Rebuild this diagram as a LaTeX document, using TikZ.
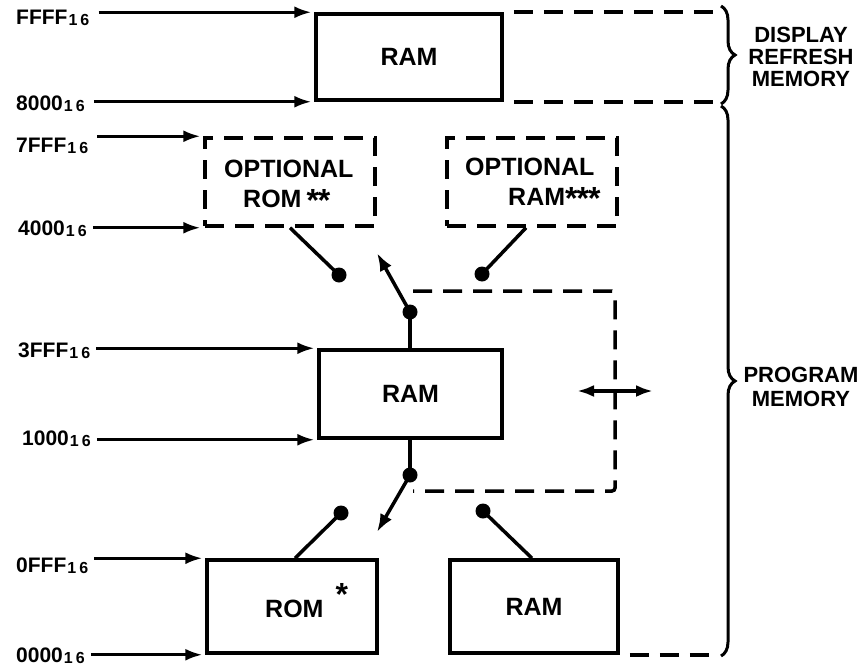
\documentclass[tikz,border=0pt]{standalone}
\usepackage{fontspec}
\setmainfont{Liberation Sans}
\usetikzlibrary{arrows.meta,decorations.pathreplacing}
\newcommand{\hexlab}[1]{#1\kern1pt\raisebox{-1pt}{\fontsize{16}{16}\selectfont 1\kern3pt 6}}
\newcommand{\bigstar}{\raisebox{-4pt}{\fontsize{32}{32}\selectfont *}}
\begin{document}
\begin{tikzpicture}[x=1pt,y=-1pt,
  every node/.style={font=\fontsize{25}{28}\selectfont\bfseries},
  membox/.style={draw, line width=3.5pt, inner sep=0pt},
  optbox/.style={draw, line width=3.5pt, dash pattern=on 19pt off 11pt, inner sep=0pt},
  addr/.style={anchor=base west, inner sep=0pt, font=\fontsize{21}{21}\selectfont\bfseries},
  btxt/.style={anchor=base west, inner sep=0pt},
  feed/.style={-{Latex[length=17pt,width=12pt]}, line width=2.8pt},
  wire/.style={line width=3.5pt},
  swarrow/.style={line width=3.5pt, -{Latex[length=18pt,width=13pt]}},
  dashline/.style={line width=3.5pt, dash pattern=on 19pt off 11pt},
  contact/.style={circle, fill, inner sep=0pt, minimum size=15pt},
  bracetext/.style={align=center, inner sep=0pt},
  brc/.style={decorate, decoration={brace, amplitude=14pt}, line width=3pt}
]
\useasboundingbox (0,0) rectangle (861,669);

% boxes
\node[membox, minimum width=186pt, minimum height=86pt] (ramA) at (409,57) {RAM};
\node[optbox, minimum width=170pt, minimum height=88pt] (orom) at (290,182) {};
\node[optbox, minimum width=170pt, minimum height=88pt] (oram) at (532,182) {};
\node[membox, minimum width=183pt, minimum height=88pt] (ramB) at (410.5,394) {RAM};
\node[membox, minimum width=170pt, minimum height=93pt] (rom) at (292,606.5) {};
\node[membox, minimum width=168pt, minimum height=93pt] (ramC) at (534,606.5) {RAM};

% box texts
\node[btxt] (t1) at (224,177) {OPTIONAL};
\node[btxt] (t2) at (243,207) {ROM\kern5pt\bigstar\kern-1pt\bigstar};
\node[btxt] (t3) at (465,175) {OPTIONAL};
\node[btxt] (t4) at (508,205) {RAM\bigstar\kern-1pt\bigstar\kern-1pt\bigstar};
\node[btxt] (t5) at (265,617) {ROM\kern12pt\raisebox{16pt}{\bigstar}};

% address labels
\node[addr] (aFFFF) at (16,25) {\hexlab{FFFF}};
\node[addr] (a8000) at (16,110) {\hexlab{8000}};
\node[addr] (a7FFF) at (16,152) {\hexlab{7FFF}};
\node[addr] (a4000) at (18,235) {\hexlab{4000}};
\node[addr] (a3FFF) at (18,357) {\hexlab{3FFF}};
\node[addr] (a1000) at (22,445) {\hexlab{1000}};
\node[addr] (a0FFF) at (16,572) {\hexlab{0FFF}};
\node[addr] (a0000) at (16,662) {\hexlab{0000}};

\draw[feed] ([xshift=9pt]aFFFF.east |- ramA.north west) -- ([xshift=-3pt]ramA.north west);
\draw[feed] ([xshift=9pt]a8000.east |- ramA.south west) -- ([xshift=-3pt]ramA.south west);
\draw[feed] ([xshift=9pt]a7FFF.east |- orom.north west) -- ([xshift=-3pt]orom.north west);
\draw[feed] ([xshift=6pt]a4000.east |- orom.south west) -- ([xshift=-3pt]orom.south west);
\draw[feed] ([xshift=6pt]a3FFF.east |- ramB.north west) -- ([xshift=-3pt]ramB.north west);
\draw[feed] ([xshift=6pt]a1000.east |- ramB.south west) -- ([xshift=-3pt]ramB.south west);
\draw[feed] ([xshift=6pt]a0FFF.east |- rom.north west) -- ([xshift=-3pt]rom.north west);
\draw[feed] ([xshift=6pt]a0000.east |- rom.south west) -- ([xshift=-3pt]rom.south west);

% switches
\node[contact] (c1) at (410,312) {};
\node[contact] (c2) at (339,275) {};
\node[contact] (c3) at (482,274) {};
\node[contact] (c4) at (410,475) {};
\node[contact] (c5) at (341,513) {};
\node[contact] (c6) at (483,511) {};
\coordinate (tip1) at (377,253);
\coordinate (tip2) at (377,532);

\draw[wire] (c1 |- ramB.north) -- (c1.center);
\draw[swarrow] (c1.center) -- (tip1);
\draw[wire] (orom.south) -- (c2.center);
\draw[wire] ([xshift=-6pt]oram.south) -- (c3.center);
\draw[wire] (c4 |- ramB.south) -- (c4.center);
\draw[swarrow] (c4.center) -- (tip2);
\draw[wire] ([xshift=3pt]rom.north) -- (c5.center);
\draw[wire] ([xshift=-2pt]ramC.north) -- (c6.center);

% dashed frame around middle RAM
\coordinate (f1) at (413,291);
\coordinate (f2) at (615,291);
\coordinate (f3) at (615,491);
\coordinate (f4) at (413,491);
\draw[dashline, rounded corners=3pt] (f1) -- (f2) -- (f3) -- (f4);

% bidirectional arrow
\coordinate (da) at (577,391);
\coordinate (db) at (653,391);
\draw[wire, {Latex[length=17pt,width=12pt]}-{Latex[length=17pt,width=12pt]}] (da) -- (db);

% braces
\coordinate (b1) at (721,6);
\coordinate (b2) at (721,104);
\coordinate (b3) at (721,106);
\coordinate (b4) at (721,656);
\draw[brc] (b1) -- (b2);
\draw[brc] (b3) -- (b4);

\draw[dashline, shorten <=10pt, shorten >=6pt] (ramA.north east) -- (ramA.north east -| b1);
\draw[dashline, shorten <=10pt, shorten >=6pt] (ramA.south east) -- (ramA.south east -| b1);
\draw[dashline, shorten <=10pt, shorten >=4pt] (ramC.south east) -- (ramC.south east -| b4);

\node[bracetext, font=\fontsize{22}{22}\selectfont\bfseries] (drm) at (801,57) {DISPLAY\\REFRESH\\MEMORY};
\node[bracetext, font=\fontsize{22}{24}\selectfont\bfseries] (pm) at (801,387) {PROGRAM\\MEMORY};
\end{tikzpicture}
\end{document}
